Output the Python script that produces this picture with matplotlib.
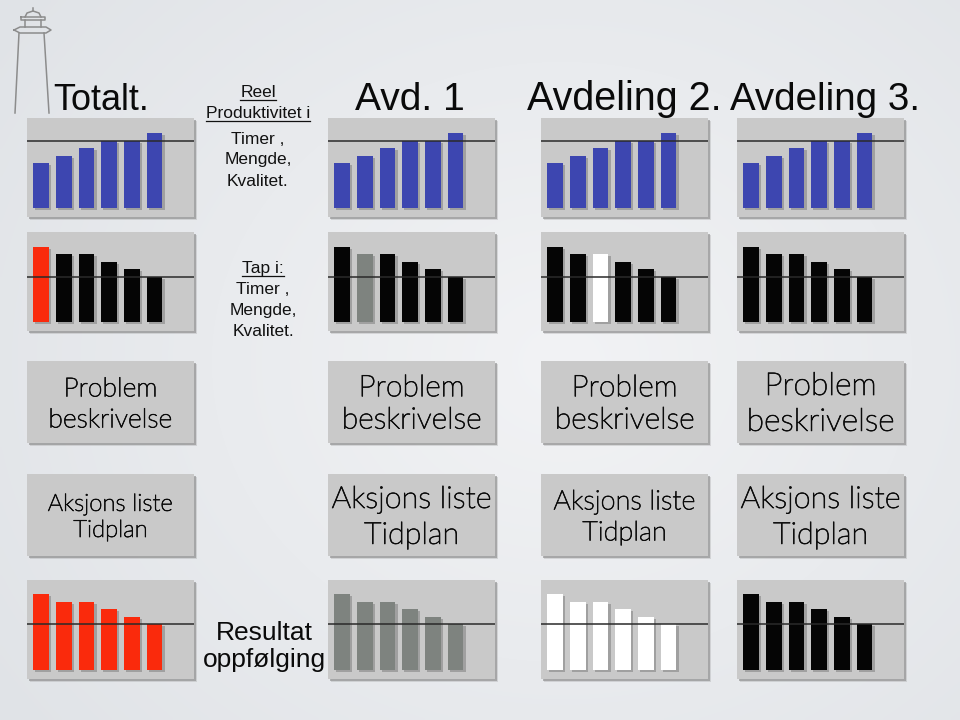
import os
import numpy as np
import matplotlib.pyplot as plt
from matplotlib.patches import Rectangle
from matplotlib import font_manager as fm
from matplotlib import patheffects as pe

W, H = 960, 720

# bar heights (pixels above the bar base) and the target line
produktivitet = [45, 52, 60, 67, 67, 75]
produktivitet_mal = 67
tap = [75, 68, 68, 60, 53, 45]
tap_mal = 45
resultat = [76, 68, 68, 61, 53, 46]
resultat_mal = 46

kolonner = ['Totalt.', 'Avd. 1', 'Avdeling 2.', 'Avdeling 3.']
problem_tekst = 'Problem\nbeskrivelse'
aksjon_tekst = 'Aksjons liste\nTidplan'

BLUE = '#3d46b0'
RED = '#fa2a0c'
BLACK = '#050505'
GRAY = '#7e837f'
WHITE = '#ffffff'

tap_farger = [
    [RED, BLACK, BLACK, BLACK, BLACK, BLACK],
    [BLACK, GRAY, BLACK, BLACK, BLACK, BLACK],
    [BLACK, BLACK, WHITE, BLACK, BLACK, BLACK],
    [BLACK, BLACK, BLACK, BLACK, BLACK, BLACK],
]
resultat_farger = [RED, GRAY, WHITE, BLACK]

# layout in pixels
col_x = [27, 328, 541, 737]
panel_w, panel_h = 167, 99
bar_rows = [118, 232, 580]
box_rows = [361, 474]
box_h = 82
PANEL = '#c9c9c9'

# a light humanist face for the boxes (stand-in for Gill Sans Light)
box_font = fm.FontProperties(family='Lato', weight='normal')
light_found = False
for f in fm.fontManager.ttflist:
    base = os.path.basename(f.fname).lower()
    if f.name == 'Lato' and 'light' in base and 'italic' not in base:
        box_font = fm.FontProperties(fname=f.fname)
        light_found = True
        break

fig = plt.figure(figsize=(W / 100, H / 100), dpi=100)
renderer = fig.canvas.get_renderer()


def frect(x, y, w, h):
    return [x / W, 1 - (y + h) / H, w / W, h / H]


def fit_width(t, target):
    w = t.get_window_extent(renderer).width
    t.set_fontsize(t.get_fontsize() * target / w)


# background, in pixel coordinates
bg = fig.add_axes([0, 0, 1, 1], zorder=-10)
yy, xx = np.mgrid[0:H:4, 0:W:4]
r = np.sqrt(((xx - 560) / 700.0) ** 2 + ((yy - 360) / 600.0) ** 2)
r = np.clip(r, 0, 1)
inner = np.array([242, 243, 245]) / 255
outer = np.array([224, 227, 231]) / 255
img = inner[None, None, :] * (1 - r[..., None]) + outer[None, None, :] * r[..., None]
bg.imshow(img, extent=[0, W, H, 0], aspect='auto', interpolation='bilinear')
bg.set_xlim(0, W)
bg.set_ylim(H, 0)
bg.axis('off')

# lighthouse sketch
lh = dict(color='#8c8c8c', lw=1.1)
bg.plot([33, 33], [8, 11], **lh)
bg.plot([25, 27, 33, 39, 41], [17, 13, 11, 13, 17], **lh)
bg.plot([21, 45, 45, 21, 21], [17, 17, 20, 20, 17], **lh)
bg.plot([25, 25], [20, 27], **lh)
bg.plot([41, 41], [20, 27], **lh)
bg.plot([14, 20, 46, 51, 46, 20, 14], [30, 27, 27, 30, 33, 33, 30], **lh)
bg.plot([19, 15], [33, 113], **lh)
bg.plot([44, 49], [33, 113], **lh)


def shadow(x, y, w, h):
    bg.add_patch(Rectangle((x + 3, y + 3), w, h, color='#8a8a8a', alpha=0.25, lw=0))
    bg.add_patch(Rectangle((x + 1.5, y + 1.5), w, h, color='#8a8a8a', alpha=0.6, lw=0))


def bar_panel(x, y, values, colors, target):
    shadow(x, y, panel_w, panel_h)
    ax = fig.add_axes(frect(x, y, panel_w, panel_h))
    ax.set_facecolor(PANEL)
    idx = np.arange(len(values))
    ax.bar(idx + 0.1, values, width=0.7, bottom=-2, color='#555555', alpha=0.35, zorder=1)
    ax.bar(idx, values, width=0.7, color=colors, zorder=2)
    ax.axhline(target, color='#2a2a2a', lw=1.1, zorder=3)
    ax.set_xlim(-0.62, 6.74)
    ax.set_ylim(-9, 90)
    ax.set_xticks([])
    ax.set_yticks([])
    for s in ax.spines.values():
        s.set_visible(False)


def text_box(x, y, text, target):
    shadow(x, y, panel_w, box_h)
    ax = fig.add_axes(frect(x, y, panel_w, box_h))
    ax.set_facecolor(PANEL)
    ax.set_xticks([])
    ax.set_yticks([])
    for s in ax.spines.values():
        s.set_visible(False)
    t = ax.text(0.5, 0.47, text, ha='center', va='center', fontproperties=box_font,
                color='#0a0a0a', linespacing=1.3)
    t.set_fontsize(20)
    fit_width(t, target)
    if light_found:
        # thicken the light face a little
        t.set_path_effects([pe.withStroke(linewidth=0.45, foreground='#0a0a0a')])


for i in range(4):
    bar_panel(col_x[i], bar_rows[0], produktivitet, BLUE, produktivitet_mal)
    bar_panel(col_x[i], bar_rows[1], tap, tap_farger[i], tap_mal)
    bar_panel(col_x[i], bar_rows[2], resultat, resultat_farger[i], resultat_mal)

problem_bredde = [124, 140, 140, 148]
aksjon_bredde = [125, 160, 142, 160]
for i in range(4):
    text_box(col_x[i], box_rows[0], problem_tekst, problem_bredde[i])
    text_box(col_x[i], box_rows[1], aksjon_tekst, aksjon_bredde[i])

# column titles
tittel_x = [53, 355, 527, 730]
tittel_bredde = [96, 110, 195, 190]
for i, navn in enumerate(kolonner):
    t = bg.text(tittel_x[i], 110, navn, ha='left', va='baseline', fontsize=29,
                family='Liberation Sans', color='#0a0a0a')
    fit_width(t, tittel_bredde[i])

# small side notes
small = dict(ha='center', va='baseline', fontsize=12.5, family='Liberation Sans', color='#111111')
notes = [('Reel', 97, True), ('Produktivitet i', 118, True), ('Timer ,', 144, False),
         ('Mengde,', 164, False), ('Kvalitet.', 186, False)]
for txt, yb, ul in notes:
    t = bg.text(258, yb, txt, **small)
    if ul:
        bb = t.get_window_extent(renderer)
        bg.plot([bb.x0, bb.x1], [yb + 2.5, yb + 2.5], color='#111111', lw=0.9)

notes2 = [('Tap i:', 273, True), ('Timer ,', 294, False), ('Mengde,', 315, False),
          ('Kvalitet.', 336, False)]
for txt, yb, ul in notes2:
    t = bg.text(263, yb, txt, **small)
    if ul:
        bb = t.get_window_extent(renderer)
        bg.plot([bb.x0, bb.x1], [yb + 2.5, yb + 2.5], color='#111111', lw=0.9)

bg.text(264, 640, 'Resultat', ha='center', va='baseline', fontsize=19,
        family='Liberation Sans', color='#0a0a0a')
bg.text(264, 667, 'oppfølging', ha='center', va='baseline', fontsize=19,
        family='Liberation Sans', color='#0a0a0a')

fig.savefig('out.png', dpi=100)
